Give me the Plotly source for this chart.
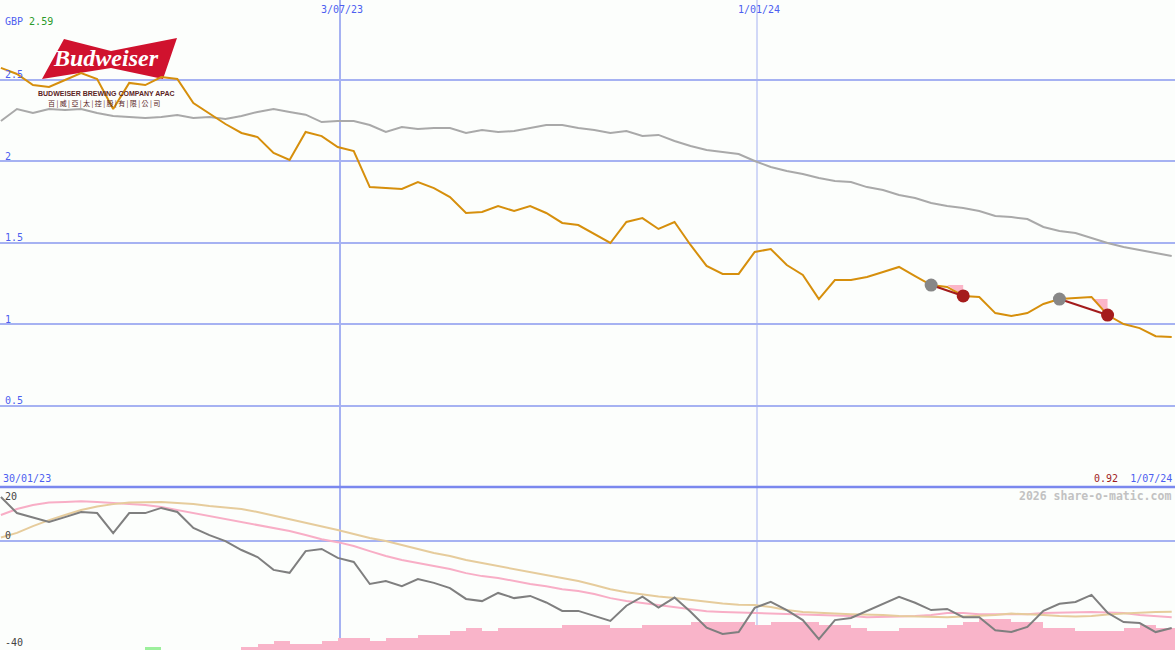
import pandas as pd
import plotly.graph_objects as go

W, H = 1175, 650

# ---------------- data ----------------
start_date = '2023-02-05'
price = [2.571, 2.534, 2.466, 2.454, 2.497, 2.540, 2.503, 2.319, 2.479, 2.466,
         2.515, 2.503, 2.356, 2.294, 2.227, 2.172, 2.147, 2.049, 2.006, 2.178,
         2.153, 2.086, 2.061, 1.840, 1.834, 1.828, 1.871, 1.834, 1.779, 1.681,
         1.687, 1.724, 1.693, 1.724, 1.681, 1.620, 1.607, 1.552, 1.497, 1.626,
         1.650, 1.583, 1.626, 1.485, 1.356, 1.307, 1.307, 1.442, 1.460, 1.362,
         1.301, 1.153, 1.270, 1.270, 1.288, 1.319, 1.350, 1.294, 1.239, 1.227,
         1.172, 1.166, 1.067, 1.049, 1.067, 1.123, 1.153, 1.160, 1.166, 1.055,
         1.000, 0.975, 0.925, 0.920]
rel_index = [2.245, 2.319, 2.294, 2.319, 2.313, 2.319, 2.294, 2.276, 2.270, 2.264,
             2.270, 2.282, 2.264, 2.270, 2.258, 2.276, 2.301, 2.319, 2.301, 2.284,
             2.239, 2.245, 2.245, 2.221, 2.178, 2.209, 2.196, 2.202, 2.202, 2.172,
             2.190, 2.178, 2.184, 2.202, 2.221, 2.221, 2.202, 2.190, 2.172, 2.184,
             2.153, 2.160, 2.123, 2.092, 2.067, 2.055, 2.043, 2.000, 1.963, 1.939,
             1.920, 1.896, 1.877, 1.871, 1.840, 1.822, 1.791, 1.773, 1.742, 1.724,
             1.712, 1.693, 1.663, 1.656, 1.644, 1.595, 1.571, 1.558, 1.528, 1.497,
             1.472, 1.454, 1.436, 1.417]
momentum = [16.3, 10.4, 8.8, 7.1, 8.9, 10.8, 10.4, 3.0, 10.4, 10.4,
            12.3, 10.8, 4.9, 2.3, 0.1, -3.2, -5.8, -10.5, -11.6, -3.6,
            -2.8, -6.1, -7.6, -15.7, -14.6, -16.5, -13.9, -15.3, -17.2, -21.2,
            -22.0, -19.0, -20.9, -20.1, -22.5, -25.6, -25.6, -27.5, -29.3, -23.7,
            -20.4, -24.4, -20.7, -25.9, -31.8, -34.1, -33.4, -24.5, -22.3, -25.3,
            -29.0, -36.0, -29.0, -28.2, -25.6, -23.0, -20.4, -22.6, -25.3, -24.9,
            -27.9, -27.9, -32.7, -33.4, -31.5, -25.6, -23.0, -22.3, -19.7, -26.3,
            -29.7, -30.1, -33.4, -31.9]
mom_fast = [9.7, 11.9, 13.4, 14.3, 14.5, 14.8, 14.5, 14.1, 13.9, 13.4,
            12.6, 11.5, 10.4, 9.3, 8.2, 7.1, 6.0, 4.9, 3.8, 2.3,
            0.8, -0.3, -1.7, -3.6, -5.4, -6.9, -8.0, -9.1, -10.2, -11.7,
            -12.8, -13.5, -14.6, -15.7, -16.5, -17.6, -18.3, -19.4, -20.9, -22.0,
            -22.7, -23.4, -24.2, -24.9, -25.7, -26.0, -26.2, -26.4, -26.4, -26.8,
            -26.8, -27.1, -27.3, -27.5, -27.9, -27.9, -27.7, -27.5, -27.1, -26.4,
            -26.4, -26.8, -26.8, -26.8, -26.8, -26.4, -26.2, -26.0, -26.0, -26.2,
            -26.4, -27.1, -27.5, -27.9]
mom_slow = [1.4, 3.1, 5.6, 7.8, 9.7, 11.5, 12.8, 13.7, 14.3, 14.5,
            14.5, 14.1, 13.7, 13.0, 12.4, 11.9, 10.8, 9.5, 8.2, 6.7,
            5.6, 4.2, 2.7, 1.2, 0.1, -1.4, -2.8, -4.3, -5.4, -6.9,
            -8.0, -9.1, -10.2, -11.3, -12.4, -13.5, -14.6, -16.1, -17.6, -18.7,
            -19.6, -20.3, -20.9, -21.6, -22.4, -22.9, -23.3, -23.4, -24.2, -25.3,
            -26.0, -26.4, -26.6, -26.8, -26.9, -27.1, -27.5, -27.7, -27.9, -27.9,
            -27.7, -27.5, -27.1, -26.6, -26.8, -27.1, -27.5, -27.7, -27.5, -26.9,
            -26.6, -26.2, -26.0, -25.9]
bars_up = [0, 0, 0, 0, 0, 0, 0, 0, 0, 0,
           0, 0, 0, 0, 0, 1.1, 2.2, 3.3, 2.2, 2.2,
           3.3, 4.4, 4.4, 3.3, 4.4, 4.4, 5.5, 5.5, 7.0, 8.1,
           7.0, 8.1, 8.1, 8.1, 8.1, 9.2, 9.2, 9.2, 8.1, 8.1,
           9.2, 9.2, 9.2, 10.3, 10.3, 10.3, 10.3, 9.2, 10.3, 10.3,
           10.3, 9.2, 9.2, 8.1, 7.0, 7.0, 8.1, 8.1, 8.1, 9.2,
           10.3, 11.4, 11.4, 10.3, 10.3, 8.1, 8.1, 7.0, 7.0, 7.0,
           8.1, 9.2, 8.1, 8.1]
bars_down = [0, 0, 0, 0, 0, 0, 0, 0, 0, 1.1] + [0] * 64
sig_start = [58, 66]
sig_end = [60, 69]

price_ticks = [0.5, 1, 1.5, 2, 2.5]
price_tick_labels = ['0.5', '1', '1.5', '2', '2.5']
osc_ticks = [20, 0, -40]
osc_tick_labels = ['20', '0', '-40']
date_ticks = ['2023-07-03', '2024-01-01']
date_tick_labels = ['3/07/23', '1/01/24']
first_label = '30/01/23'
last_label = '1/07/24'
currency = 'GBP'
high_label = '2.59'
cn_name = ['百', '威', '亞', '太', '控', '股', '有', '限', '公', '司']

# ---------------- geometry ----------------
dates = pd.date_range(start_date, periods=len(price), freq='7D')
ppd = (757 - 340) / 182.0
x_left = pd.Timestamp(date_ticks[0]) - pd.Timedelta(days=340 / ppd)
x_right = x_left + pd.Timedelta(days=W / ppd)
split = 163 / 650
main_top = 487 / 163
week_ms = 7 * 24 * 3600 * 1000

BG = '#fcfefc'
GRID = '#a6b2f2'
BLUE_TXT = '#4d5ff0'
MONO = 'DejaVu Sans Mono'


def P(px, py):
    return px / W, 1 - py / H


fig = go.Figure()

# main panel
fig.add_trace(go.Scatter(x=dates, y=rel_index, mode='lines',
                         line=dict(color='#a9a9a9', width=2), yaxis='y'))
for s, e in zip(sig_start, sig_end):
    fig.add_trace(go.Scatter(x=[dates[e - 1], dates[e], dates[e], dates[e - 1]],
                             y=[price[s], price[s], price[e], price[s]],
                             mode='lines', fill='toself', fillcolor='#fbb6c8',
                             line=dict(width=0, color='#fbb6c8'), yaxis='y'))
fig.add_trace(go.Scatter(x=dates, y=price, mode='lines',
                         line=dict(color='#d68f0c', width=2), yaxis='y'))
for s, e in zip(sig_start, sig_end):
    fig.add_trace(go.Scatter(x=[dates[s], dates[e]], y=[price[s], price[e]],
                             mode='lines', line=dict(color='#a31c1c', width=2.2),
                             yaxis='y'))
fig.add_trace(go.Scatter(x=[dates[i] for i in sig_start], y=[price[i] for i in sig_start],
                         mode='markers', marker=dict(size=13, color='#878787'), yaxis='y'))
fig.add_trace(go.Scatter(x=[dates[i] for i in sig_end], y=[price[i] for i in sig_end],
                         mode='markers', marker=dict(size=13, color='#a51c1c'), yaxis='y'))

# lower panel
fig.add_trace(go.Bar(x=dates, y=bars_up, base=-40, width=week_ms, offset=0,
                     marker=dict(color='#f9b4c9', line=dict(width=0)), yaxis='y2'))
fig.add_trace(go.Bar(x=dates, y=bars_down, base=-40, width=week_ms, offset=0,
                     marker=dict(color='#9cf09c', line=dict(width=0)), yaxis='y2'))
fig.add_trace(go.Scatter(x=dates, y=mom_fast, mode='lines',
                         line=dict(color='#f8aec6', width=2), yaxis='y2'))
fig.add_trace(go.Scatter(x=dates, y=mom_slow, mode='lines',
                         line=dict(color='#e6cc9c', width=2), yaxis='y2'))
fig.add_trace(go.Scatter(x=dates, y=momentum, mode='lines',
                         line=dict(color='#7f7f7f', width=2), yaxis='y2'))

shapes = []
# vertical date lines
for d, w in zip(date_ticks, [2, 1]):
    shapes.append(dict(type='line', xref='x', yref='paper', x0=d, x1=d, y0=0, y1=1,
                       line=dict(color=GRID, width=w), layer='between'))
# panel divider
shapes.append(dict(type='line', xref='paper', yref='paper', x0=0, x1=1, y0=split, y1=split,
                   line=dict(color='#7a88ee', width=2.5), layer='above'))
# logo backdrop + bowtie
x0, y0 = P(35, 36)
x1, y1 = P(181, 108)
shapes.append(dict(type='rect', xref='paper', yref='paper', x0=x0, x1=x1, y0=y1, y1=y0,
                   fillcolor=BG, line=dict(width=0), layer='between'))
bow = [(64, 39), (111, 51), (177, 38), (163, 79), (111, 68), (42, 79)]
path = 'M ' + ' L '.join('%.5f,%.5f' % P(a, b) for a, b in bow) + ' Z'
shapes.append(dict(type='path', xref='paper', yref='paper', path=path,
                   fillcolor='#d0122e', line=dict(width=0), layer='between'))

ann = []
for v, t in zip(price_ticks, price_tick_labels):
    ann.append(dict(x=0, xref='paper', xanchor='left', xshift=3, y=v, yref='y',
                    yanchor='middle', yshift=5, text=t, showarrow=False,
                    font=dict(family=MONO, size=10, color=BLUE_TXT)))
for v, t, sh in zip(osc_ticks, osc_tick_labels, [-9, 6, 8]):
    ann.append(dict(x=0, xref='paper', xanchor='left', xshift=3, y=v, yref='y2',
                    yanchor='middle', yshift=sh, text=t, showarrow=False,
                    font=dict(family=MONO, size=10, color='#444444')))
for d, t in zip(date_ticks, date_tick_labels):
    ann.append(dict(x=d, xref='x', xanchor='center', xshift=2, y=1, yref='paper',
                    yanchor='middle', yshift=-9, text=t, showarrow=False,
                    font=dict(family=MONO, size=10, color=BLUE_TXT)))
ann.append(dict(x=0, xref='paper', xanchor='left', xshift=3, y=1, yref='paper',
                yanchor='middle', yshift=-21,
                text=currency + ' <span style="color:#2a9a2a">' + high_label + '</span>',
                showarrow=False, font=dict(family=MONO, size=10, color=BLUE_TXT)))
ylab = P(0, 478.5)[1]
ann.append(dict(x=0, xref='paper', xanchor='left', xshift=1, y=ylab, yref='paper',
                yanchor='middle', text=first_label, showarrow=False,
                font=dict(family=MONO, size=10, color=BLUE_TXT)))
ann.append(dict(x=1, xref='paper', xanchor='right', xshift=-1, y=ylab, yref='paper',
                yanchor='middle',
                text='<span style="color:#a01c1c">%.2f</span>  %s' % (price[-1], last_label),
                showarrow=False, font=dict(family=MONO, size=10, color=BLUE_TXT)))
ann.append(dict(x=1, xref='paper', xanchor='right', xshift=-2, y=P(0, 496)[1], yref='paper',
                yanchor='middle', text='<b>2026 share-o-matic.com</b>', showarrow=False,
                font=dict(family=MONO, size=11.5, color='#c2c2c2')))
# logo texts
ann.append(dict(x=P(106, 0)[0], xref='paper', xanchor='center', y=P(0, 58)[1], yref='paper',
                yanchor='middle', text='<b><i>Budweiser</i></b>', showarrow=False,
                font=dict(family='Liberation Serif', size=24, color='#ffffff')))
ann.append(dict(x=P(106.5, 0)[0], xref='paper', xanchor='center', y=P(0, 93)[1], yref='paper',
                yanchor='middle', text='<b>BUDWEISER BREWING COMPANY APAC</b>', showarrow=False,
                font=dict(family='Liberation Sans', size=7, color='#5a2424')))
ann.append(dict(x=P(104, 0)[0], xref='paper', xanchor='center', y=P(0, 103)[1], yref='paper',
                yanchor='middle', text='\u2009|\u2009'.join(cn_name), showarrow=False,
                font=dict(family='Noto Sans CJK TC', size=7, color='#5a2424')))

fig.update_layout(
    width=W, height=H, autosize=False,
    margin=dict(l=0, r=0, t=0, b=0, pad=0),
    paper_bgcolor=BG, plot_bgcolor=BG,
    showlegend=False, barmode='overlay', bargap=0,
    xaxis=dict(range=[x_left, x_right], visible=False, showgrid=False, zeroline=False),
    yaxis=dict(domain=[split, 1], range=[0, main_top], tickvals=price_ticks,
               showticklabels=False, ticks='', showgrid=True, gridcolor=GRID,
               gridwidth=2, zeroline=False, showline=False),
    yaxis2=dict(domain=[0, split], range=[-40, 20], tickvals=[0],
                showticklabels=False, ticks='', showgrid=True, gridcolor=GRID,
                gridwidth=2, zeroline=False, showline=False),
    shapes=shapes, annotations=ann, hovermode=False,
)

fig.write_html("out.html", config={'displayModeBar': False, 'staticPlot': True},
               post_script="document.body.style.margin='0px';document.body.style.overflow='hidden';")
